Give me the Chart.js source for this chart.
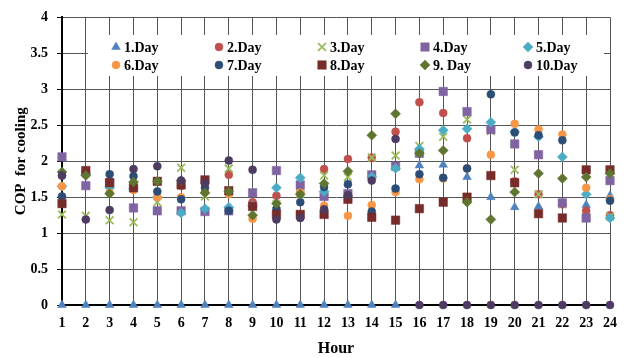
<!DOCTYPE html>
<html>
<head>
<meta charset="utf-8">
<script src="https://cdn.jsdelivr.net/npm/chart.js@4.4.0/dist/chart.umd.min.js"></script>
<style>
  html, body { margin: 0; padding: 0; background: #fff; }
  #wrap { width: 627px; height: 358px; }
</style>
</head>
<body>
<div id="wrap"><canvas id="cop-chart" width="627" height="358"></canvas></div>
<script>
// Hours (x axis)
const hours = [1, 2, 3, 4, 5, 6, 7, 8, 9, 10, 11, 12, 13, 14, 15, 16, 17, 18, 19, 20, 21, 22, 23, 24];

// COP for cooling, one list per day
const day1  = [0, 0, 0, 0, 0, 0, 0, 0, 0, 0, 0, 0, 0, 0, 0, 1.94, 1.95, 1.78, 1.50, 1.36, 1.37, 1.42, 1.39, 1.52];
const day2  = [1.80, 1.85, 1.72, 1.65, 1.72, 1.66, 1.72, 1.81, 1.43, 1.52, 1.57, 1.89, 2.03, 2.05, 2.41, 2.82, 2.67, 2.32, 2.45, 1.72, 1.54, 1.40, 1.31, 1.25];
const day3  = [1.26, 1.24, 1.18, 1.15, 1.43, 1.91, 1.51, 1.90, 1.56, 1.40, 1.55, 1.80, 1.78, 2.05, 2.08, 2.21, 2.34, 2.58, 2.42, 1.88, 1.54, 1.40, 1.22, 1.23];
const day4  = [2.06, 1.66, 1.70, 1.35, 1.31, 1.31, 1.30, 1.31, 1.56, 1.87, 1.67, 1.51, 1.55, 1.81, 1.93, 2.11, 2.97, 2.69, 2.44, 2.24, 2.09, 1.42, 1.21, 1.73];
const day5  = [1.65, 1.82, 1.63, 1.62, 1.50, 1.28, 1.34, 1.36, 1.38, 1.63, 1.77, 1.58, 1.50, 1.78, 1.90, 2.17, 2.43, 2.45, 2.54, 2.41, 2.34, 2.06, 1.54, 1.21];
const day6  = [1.65, 1.83, 1.56, 1.60, 1.50, 1.50, 1.57, 1.54, 1.20, 1.27, 1.56, 1.38, 1.24, 1.39, 1.57, 1.75, 1.76, 1.90, 2.09, 2.52, 2.44, 2.37, 1.63, 1.47];
const day7  = [1.51, 1.86, 1.82, 1.79, 1.58, 1.47, 1.63, 1.31, 1.37, 1.33, 1.43, 1.64, 1.68, 1.30, 1.62, 1.82, 1.77, 1.90, 2.93, 2.40, 2.36, 2.29, 1.87, 1.45];
const day8  = [1.41, 1.87, 1.70, 1.63, 1.72, 1.67, 1.74, 1.59, 1.37, 1.26, 1.26, 1.26, 1.47, 1.22, 1.18, 1.34, 1.43, 1.50, 1.80, 1.70, 1.27, 1.21, 1.88, 1.88];
const day9  = [1.85, 1.80, 1.55, 1.71, 1.72, 1.73, 1.56, 1.58, 1.25, 1.41, 1.54, 1.69, 1.86, 2.36, 2.66, 2.11, 2.15, 1.43, 1.19, 1.57, 1.83, 1.76, 1.78, 1.83];
const day10 = [1.80, 1.19, 1.32, 1.89, 1.93, 1.73, 1.69, 2.01, 1.88, 1.19, 1.21, 1.33, 1.53, 1.73, 2.31, 0, 0, 0, 0, 0, 0, 0, 0, 0];

const dayLabels = ['1.Day', '2.Day', '3.Day', '4.Day', '5.Day', '6.Day', '7.Day', '8.Day', '9. Day', '10.Day'];
const dayValues = [day1, day2, day3, day4, day5, day6, day7, day8, day9, day10];

const FONT = '"Liberation Serif", "Times New Roman", serif';

// Marker look for each day (Excel-like)
const markers = [
  { style: 'triangle', color: '#4F81BD', radius: 5 },
  { style: 'circle',   color: '#C0504D', radius: 4 },
  { style: 'crossRot', color: '#9BBB59', radius: 5.5 },
  { style: 'rect',     color: '#8064A2', radius: 6 },
  { style: 'rectRot',  color: '#4BACC6', radius: 5 },
  { style: 'circle',   color: '#F79646', radius: 4 },
  { style: 'circle',   color: '#2C4D75', radius: 4 },
  { style: 'rect',     color: '#772C2A', radius: 6 },
  { style: 'rectRot',  color: '#5F7530', radius: 5 },
  { style: 'circle',   color: '#4D3B62', radius: 4 }
];

const datasets = dayValues.map((vals, i) => ({
  label: dayLabels[i],
  data: vals.map((v, j) => ({ x: hours[j], y: v })),
  pointStyle: markers[i].style,
  pointRadius: markers[i].radius,
  pointHoverRadius: markers[i].radius,
  backgroundColor: markers[i].color,
  borderColor: markers[i].color,
  borderWidth: markers[i].style === 'crossRot' ? 1.8 : 0.5,
  showLine: false,
  clip: false,
  order: dayValues.length - 1 - i // later days on top, as in Excel
}));

// Legend drawn inside the plot on a white box, 5 columns x 2 rows
const legendBox = {
  id: 'legendBox',
  beforeDatasetsDraw(chart) {
    const ctx = chart.ctx;
    ctx.save();
    ctx.fillStyle = '#fff';
    ctx.fillRect(88, 35, 516, 41);
    ctx.font = 'bold 14px ' + FONT;
    ctx.textBaseline = 'middle';
    chart.data.datasets.forEach((ds, i) => {
      const x = 116 + (i % 5) * 103;
      const y = 47 + Math.floor(i / 5) * 18;
      ctx.fillStyle = ds.backgroundColor;
      ctx.strokeStyle = ds.borderColor;
      ctx.lineWidth = ds.borderWidth;
      Chart.helpers.drawPoint(ctx, {
        pointStyle: ds.pointStyle,
        radius: ds.pointRadius,
        borderWidth: ds.borderWidth,
        rotation: 0
      }, x, y);
      ctx.fillStyle = '#000';
      ctx.fillText(ds.label, x + 8, y + 1);
    });
    ctx.restore();
  }
};

const ctx = document.getElementById('cop-chart').getContext('2d');
new Chart(ctx, {
  type: 'scatter',
  data: { datasets: datasets },
  options: {
    responsive: false,
    animation: false,
    layout: { padding: { top: 17, right: 8, bottom: 0, left: 0 } },
    plugins: {
      legend: { display: false },
      tooltip: { enabled: false }
    },
    scales: {
      x: {
        type: 'linear',
        min: 1,
        max: 24,
        afterFit: (scale) => { scale.height = 53; },
        ticks: {
          stepSize: 1,
          padding: 10,
          color: '#000',
          font: { family: FONT, size: 14, weight: 'bold' }
        },
        grid: { color: '#555', lineWidth: 1, drawTicks: false },
        border: { display: true, color: '#000', width: 2 },
        title: {
          display: true,
          text: 'Hour',
          color: '#000',
          padding: { top: 0, bottom: 0 },
          font: { family: FONT, size: 16, weight: 'bold' }
        }
      },
      y: {
        min: 0,
        max: 4,
        afterFit: (scale) => { scale.width = 62; },
        ticks: {
          stepSize: 0.5,
          padding: 9,
          color: '#000',
          font: { family: FONT, size: 14, weight: 'bold' },
          callback: (value) => String(value)
        },
        grid: { color: '#555', lineWidth: 1, tickLength: 5, tickColor: '#000' },
        border: { display: true, color: '#000', width: 2 },
        title: {
          display: true,
          text: 'COP  for cooling',
          color: '#000',
          padding: { top: 12, bottom: 0 },
          font: { family: FONT, size: 15, weight: 'bold' }
        }
      }
    }
  },
  plugins: [legendBox]
});
</script>
</body>
</html>
